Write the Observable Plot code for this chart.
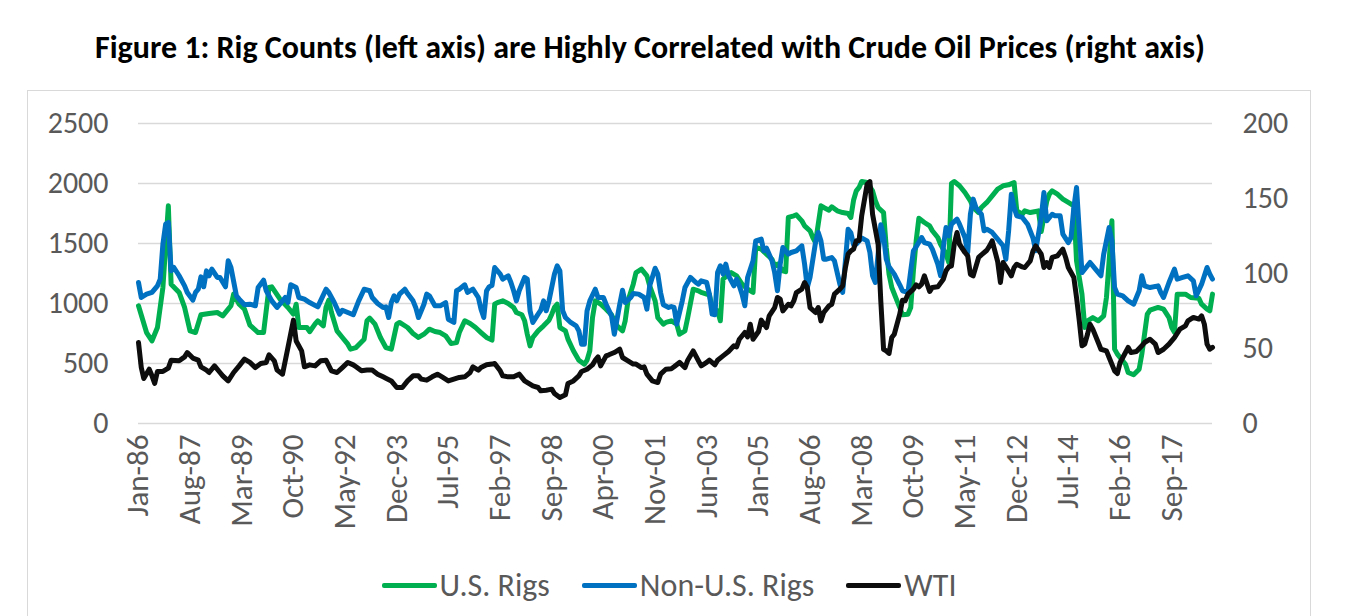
<!DOCTYPE html>
<html>
<head>
<meta charset="utf-8">
<script src="https://cdn.jsdelivr.net/npm/d3@7"></script>
<script src="https://cdn.jsdelivr.net/npm/@observablehq/plot@0.6"></script>
<style>
  html, body { margin: 0; padding: 0; background: #fff; }
  body { width: 1365px; height: 616px; overflow: hidden; position: relative; font-family: Carlito, Calibri, Lato, sans-serif; }
  #title { position: absolute; left: 95px; top: 32px; width: 1110px; text-align: center; font-weight: bold; color: #000; line-height: 32px; white-space: nowrap; }
  #box { position: absolute; left: 27px; top: 90px; width: 1282px; height: 560px; border: 1px solid #d9d9d9; box-sizing: content-box; }
  #chart { position: absolute; left: 0; top: 0; }
  #legend { position: absolute; left: 0; width: 100%; top: 475px; height: 38px; display: flex; justify-content: center; align-items: center; color: #595959; font-size: 32px; }
  .item { display: flex; align-items: center; margin: 0 16px; }
  .swatch { width: 55px; height: 5px; border-radius: 2px; margin-right: 3px; }
</style>
</head>
<body>
<div id="title"></div>
<div id="box">
  <div id="chart"></div>
  <div id="legend"></div>
</div>
<script>
const titleText = "Figure 1: Rig Counts (left axis) are Highly Correlated with Crude Oil Prices (right axis)";
const seriesNames = ["U.S. Rigs", "Non-U.S. Rigs", "WTI"];
const seriesColors = ["#00B050", "#0070C0", "#0D0D0D"];
const leftTicks = [0, 500, 1000, 1500, 2000, 2500];
const rightTicks = [0, 50, 100, 150, 200];
const xTickLabels = ["Jan-86","Aug-87","Mar-89","Oct-90","May-92","Dec-93","Jul-95","Feb-97","Sep-98","Apr-00","Nov-01","Jun-03","Jan-05","Aug-06","Mar-08","Oct-09","May-11","Dec-12","Jul-14","Feb-16","Sep-17"];
const xDomain = ["1986-01", "2018-12"];

// U.S. rig count (left axis)
const usRigs = [
["1986-01",981],["1986-04",758],["1986-06",689],["1986-08",800],["1986-10",1133],["1986-12",1814],
["1987-01",1161],["1987-04",1092],["1987-06",967],["1987-08",772],["1987-10",758],["1987-12",906],
["1988-03",917],["1988-06",925],["1988-08",897],["1988-10",953],["1988-11",981],["1988-12",1078],
["1989-02",994],["1989-04",953],["1989-06",820],["1989-09",758],["1989-11",758],
["1990-01",1133],["1990-02",1139],["1990-05",1040],["1990-08",967],["1990-10",911],["1990-11",994],["1990-12",800],
["1991-03",800],["1991-04",765],["1991-06",830],["1991-07",856],["1991-09",814],["1991-10",967],["1991-11",1028],["1991-12",925],
["1992-02",772],["1992-04",717],["1992-06",661],["1992-07",620],["1992-09",633],["1992-12",703],
["1993-01",856],["1993-02",878],["1993-04",828],["1993-06",717],["1993-08",633],["1993-10",620],["1993-12",828],
["1994-01",842],["1994-04",800],["1994-06",750],["1994-08",717],["1994-10",744],["1994-12",786],
["1995-02",767],["1995-04",758],["1995-06",731],["1995-08",667],["1995-10",675],["1995-11",758],
["1996-01",856],["1996-03",833],["1996-05",800],["1996-07",758],["1996-09",717],["1996-11",695],["1996-12",994],
["1997-01",1008],["1997-03",1022],["1997-05",1000],["1997-07",967],["1997-08",925],["1997-10",906],["1997-11",856],["1997-12",744],
["1998-01",647],["1998-02",717],["1998-04",772],["1998-06",814],["1998-08",861],["1998-09",911],["1998-10",967],["1998-11",994],["1998-12",800],
["1999-02",772],["1999-03",703],["1999-05",606],["1999-07",528],["1999-09",494],["1999-10",528],["1999-11",606],["1999-12",883],
["2000-01",1022],["2000-03",994],["2000-05",953],["2000-07",906],["2000-08",856],["2000-09",814],["2000-11",772],["2000-12",856],
["2001-01",1022],["2001-03",1161],["2001-04",1258],["2001-06",1286],["2001-08",1230],["2001-09",1147],["2001-11",1022],["2001-12",883],
["2002-02",828],["2002-03",842],["2002-05",856],["2002-07",828],["2002-08",744],["2002-10",772],["2002-11",883],
["2003-01",1119],["2003-03",1106],["2003-04",1092],["2003-06",1078],["2003-07",1078],["2003-08",967],["2003-10",939],["2003-11",856],["2003-12",1203],
["2004-02",1245],["2004-03",1258],["2004-05",1231],["2004-07",1161],["2004-09",1119],["2004-11",1092],["2004-12",1467],
["2005-02",1453],["2005-04",1411],["2005-06",1369],["2005-07",1314],["2005-08",1328],["2005-09",1300],["2005-10",1272],["2005-11",1265],["2005-12",1717],
["2006-02",1731],["2006-03",1739],["2006-05",1689],["2006-06",1647],["2006-08",1606],["2006-09",1550],["2006-10",1508],["2006-12",1814],
["2007-01",1800],["2007-03",1778],["2007-04",1806],["2007-06",1772],["2007-08",1758],["2007-10",1750],["2007-11",1717],["2007-12",1860],
["2008-01",1939],["2008-02",1967],["2008-03",2017],["2008-05",2008],["2008-07",1939],["2008-08",1856],["2008-09",1800],["2008-11",1758],["2008-12",1467],
["2009-01",1245],["2009-02",1133],["2009-04",1022],["2009-05",967],["2009-06",906],["2009-08",911],["2009-09",967],["2009-10",1272],["2009-11",1522],["2009-12",1711],
["2010-02",1675],["2010-04",1647],["2010-05",1606],["2010-07",1550],["2010-08",1494],["2010-10",1411],["2010-11",1342],["2010-12",2000],
["2011-01",2017],["2011-03",1981],["2011-05",1925],["2011-07",1856],["2011-08",1800],["2011-10",1758],["2011-11",1800],
["2012-01",1842],["2012-03",1897],["2012-05",1953],["2012-07",1981],["2012-09",1989],["2012-11",2008],["2012-12",1772],
["2013-02",1744],["2013-03",1772],["2013-05",1758],["2013-07",1767],["2013-08",1772],["2013-09",1600],["2013-11",1850],["2013-12",1911],
["2014-01",1939],["2014-03",1911],["2014-05",1870],["2014-07",1842],["2014-09",1814],["2014-10",1356],["2014-12",1078],
["2015-01",800],["2015-02",856],["2015-04",883],["2015-06",856],["2015-08",897],["2015-09",1050],["2015-10",1356],["2015-11",1689],["2015-12",620],
["2016-01",578],["2016-04",494],["2016-05",425],["2016-07",406],["2016-09",453],["2016-10",578],["2016-12",911],
["2017-01",944],["2017-04",967],["2017-06",953],["2017-08",883],["2017-09",800],["2017-10",760],["2017-11",1078],
["2018-02",1078],["2018-04",1050],["2018-07",1044],["2018-08",994],["2018-10",953],["2018-11",939],["2018-12",1078]
];

// Non-U.S. rig count (left axis)
const nonUsRigs = [
["1986-01",1175],["1986-02",1050],["1986-04",1078],["1986-06",1092],["1986-08",1147],["1986-09",1203],["1986-10",1494],["1986-11",1661],["1986-12",1675],
["1987-01",1272],["1987-02",1300],["1987-04",1231],["1987-06",1147],["1987-07",1092],["1987-09",1028],["1987-10",1092],["1987-11",1119],["1987-12",1222],
["1988-01",1139],["1988-02",1272],["1988-03",1231],["1988-04",1286],["1988-06",1217],["1988-07",1217],["1988-09",1139],["1988-10",1356],["1988-11",1300],
["1989-01",1064],["1989-02",1036],["1989-04",989],["1989-06",994],["1989-08",981],["1989-09",1133],["1989-11",1194],["1989-12",1106],
["1990-02",1022],["1990-04",967],["1990-06",1022],["1990-07",1050],["1990-08",1008],["1990-09",1156],["1990-11",1133],["1990-12",1050],
["1991-02",1036],["1991-04",1008],["1991-07",972],["1991-08",1022],["1991-10",1119],["1991-11",1092],
["1992-01",1008],["1992-03",911],["1992-04",944],["1992-06",925],["1992-08",906],["1992-10",1022],["1992-12",1119],
["1993-02",1106],["1993-03",1050],["1993-05",1000],["1993-07",967],["1993-08",972],["1993-09",883],["1993-10",1008],["1993-11",1064],["1993-12",1022],
["1994-01",1078],["1994-03",1119],["1994-04",1083],["1994-06",1022],["1994-07",967],["1994-08",883],["1994-10",994],["1994-11",1078],["1994-12",1064],
["1995-02",981],["1995-04",981],["1995-06",1008],["1995-07",869],["1995-09",842],["1995-10",1106],["1995-11",1119],
["1996-01",1156],["1996-02",1092],["1996-04",1119],["1996-06",1050],["1996-07",953],["1996-08",883],["1996-09",1106],["1996-10",1140],["1996-11",1150],["1996-12",1300],
["1997-02",1245],["1997-03",1203],["1997-05",1231],["1997-06",1175],["1997-07",1106],["1997-08",1022],["1997-09",1106],["1997-11",1217],["1997-12",1203],
["1998-01",939],["1998-02",842],["1998-04",911],["1998-05",944],["1998-06",1022],["1998-07",939],["1998-08",1022],["1998-10",1245],["1998-11",1314],["1998-12",1272],
["1999-01",939],["1999-02",883],["1999-04",842],["1999-06",814],["1999-07",772],["1999-08",661],["1999-09",661],["1999-10",939],["1999-11",1022],
["2000-01",1119],["2000-02",1050],["2000-04",1050],["2000-05",994],["2000-07",897],["2000-08",744],["2000-10",994],["2000-11",1111],["2000-12",1008],
["2001-02",1050],["2001-03",1083],["2001-05",1078],["2001-07",1050],["2001-08",953],["2001-09",1147],["2001-11",1294],["2001-12",1245],
["2002-01",1092],["2002-02",989],["2002-04",967],["2002-05",975],["2002-06",967],["2002-07",828],["2002-09",1022],["2002-10",1133],["2002-12",1217],
["2003-02",1175],["2003-03",1161],["2003-04",1189],["2003-06",1175],["2003-07",1078],["2003-08",911],["2003-09",906],["2003-10",1258],["2003-11",1314],["2003-12",1245],
["2004-01",1328],["2004-02",1231],["2004-04",1147],["2004-05",1203],["2004-06",1147],["2004-07",1078],["2004-08",981],["2004-09",1217],["2004-11",1356],["2004-12",1522],
["2005-02",1536],["2005-03",1439],["2005-04",1461],["2005-06",1356],["2005-07",1258],["2005-08",1106],["2005-09",1328],["2005-10",1467],["2005-12",1411],
["2006-01",1425],["2006-03",1439],["2006-05",1481],["2006-06",1328],["2006-07",1133],["2006-08",1217],["2006-10",1508],["2006-11",1592],["2006-12",1522],
["2007-01",1369],["2007-02",1369],["2007-04",1383],["2007-05",1356],["2007-07",1161],["2007-08",1092],["2007-09",1356],["2007-10",1619],["2007-11",1590],["2007-12",1490],
["2008-01",1494],["2008-03",1545],["2008-05",1522],["2008-06",1425],["2008-07",1231],["2008-08",1175],["2008-09",1411],["2008-10",1656],["2008-11",1564],["2008-12",1369],
["2009-01",1306],["2009-03",1245],["2009-05",1156],["2009-06",1106],["2009-08",1092],["2009-09",1272],["2009-10",1439],["2009-11",1472],
["2010-01",1550],["2010-02",1508],["2010-04",1494],["2010-05",1453],["2010-07",1328],["2010-08",1231],["2010-09",1467],["2010-10",1633],["2010-11",1564],["2010-12",1661],
["2011-02",1703],["2011-03",1661],["2011-05",1550],["2011-06",1425],["2011-07",1744],["2011-08",1870],["2011-09",1800],["2011-11",1744],["2011-12",1606],
["2012-01",1619],["2012-03",1592],["2012-05",1536],["2012-07",1481],["2012-08",1369],["2012-09",1606],["2012-10",1911],["2012-11",1800],["2012-12",1731],
["2013-02",1717],["2013-04",1661],["2013-06",1545],["2013-07",1440],["2013-09",1717],["2013-10",1925],["2013-11",1689],
["2014-01",1744],["2014-02",1731],["2014-04",1731],["2014-05",1578],["2014-07",1508],["2014-08",1550],["2014-09",1800],["2014-10",1967],["2014-11",1600],["2014-12",1258],
["2015-01",1286],["2015-03",1342],["2015-05",1286],["2015-07",1231],["2015-08",1411],["2015-10",1633],["2015-11",1522],["2015-12",1133],
["2016-01",1078],["2016-03",1064],["2016-05",1022],["2016-07",994],["2016-09",1106],["2016-10",1231],["2016-11",1147],
["2017-01",1133],["2017-04",1147],["2017-05",1092],["2017-06",1050],["2017-08",1175],["2017-10",1286],["2017-11",1203],
["2018-01",1217],["2018-03",1231],["2018-05",1189],["2018-06",1064],["2018-08",1161],["2018-10",1300],["2018-11",1245],["2018-12",1203]
];

// WTI crude oil price (right axis)
const wti = [
["1986-01",54],["1986-02",37.3],["1986-03",30],["1986-05",36.2],["1986-06",31.8],["1986-07",26.7],["1986-08",34.7],["1986-10",34.7],["1986-12",36.9],
["1987-01",42.2],["1987-04",41.8],["1987-06",44.4],["1987-07",47.3],["1987-09",43.6],["1987-11",42.2],["1987-12",37.8],
["1988-02",35.6],["1988-03",34],["1988-05",38.4],["1988-07",34],["1988-08",31.8],["1988-10",28.4],["1988-12",34],
["1989-02",38.4],["1989-04",42.9],["1989-06",40.7],["1989-08",37.3],["1989-10",40],["1989-12",40.7],
["1990-01",45.8],["1990-03",41.8],["1990-04",35.6],["1990-06",32.9],["1990-08",50.7],["1990-10",68.9],["1990-11",55],
["1991-01",48.4],["1991-02",37.8],["1991-04",39.1],["1991-06",38.4],["1991-08",41.8],["1991-10",42.2],["1991-12",35.1],
["1992-02",34],["1992-04",37.3],["1992-06",40.7],["1992-08",39.1],["1992-09",37.8],["1992-11",35.1],
["1993-01",35.6],["1993-03",35.6],["1993-05",32.9],["1993-07",31.1],["1993-08",30.2],["1993-10",28.4],["1993-12",24],
["1994-02",24],["1994-04",28.4],["1994-06",31.8],["1994-08",31.8],["1994-09",29.6],["1994-11",28.9],
["1995-01",31.1],["1995-03",32.9],["1995-05",30.7],["1995-07",28.4],["1995-09",29.6],["1995-11",30.7],
["1996-01",31.1],["1996-03",34],["1996-04",37.8],["1996-06",35.6],["1996-07",37.3],["1996-09",39.1],["1996-11",39.6],["1996-12",40],
["1997-02",35.1],["1997-03",31.8],["1997-05",31.1],["1997-07",31.1],["1997-09",32.9],["1997-11",28.4],
["1998-02",25.1],["1998-04",24],["1998-05",21.8],["1998-07",22.2],["1998-09",22.9],["1998-10",20],["1998-12",17.3],
["1999-02",19.1],["1999-03",26.7],["1999-05",28.4],["1999-07",31.8],["1999-08",34.7],["1999-10",36.2],["1999-12",39.1],
["2000-01",42.2],["2000-02",44.4],["2000-03",38.4],["2000-05",45.1],["2000-06",45.8],["2000-08",47.3],["2000-09",48.4],["2000-10",49.5],["2000-11",44],
["2001-01",41.8],["2001-03",39.6],["2001-04",39.6],["2001-06",37.3],["2001-07",37.8],["2001-08",32.9],["2001-10",28.4],["2001-12",27.3],
["2002-01",32.9],["2002-03",36.2],["2002-05",36.5],["2002-06",37.8],["2002-08",40.7],["2002-10",37.3],["2002-11",42.2],
["2003-01",48.4],["2003-03",41.8],["2003-04",38.4],["2003-06",40.7],["2003-07",42.2],["2003-09",39.1],["2003-10",42.2],["2003-12",45.1],
["2004-02",48],["2004-04",51.8],["2004-05",51.1],["2004-06",56.2],["2004-08",60.7],["2004-09",57.8],["2004-10",66.2],["2004-11",56.2],
["2005-01",61.3],["2005-02",68.9],["2005-04",64],["2005-05",71.8],["2005-07",77.3],["2005-08",84],["2005-09",82.9],["2005-10",75.1],["2005-12",79.5],
["2006-01",78.4],["2006-02",81.8],["2006-03",87.3],["2006-05",89.6],["2006-06",94],["2006-07",90.7],["2006-08",77.3],["2006-10",74],["2006-11",77.3],["2006-12",68.4],
["2007-01",74],["2007-03",78.4],["2007-04",79.5],["2007-05",86.2],["2007-07",89.6],["2007-08",91.8],["2007-09",104],["2007-10",112.9],["2007-11",115.1],["2007-12",116.2],
["2008-01",121.8],["2008-02",122],["2008-03",138.4],["2008-05",159.5],["2008-06",161.3],["2008-07",139.5],["2008-09",119.5],["2008-10",81.8],["2008-11",49.5],["2008-12",48.4],
["2009-01",46.7],["2009-02",57.3],["2009-03",59.5],["2009-05",72.9],["2009-06",82.2],["2009-07",81.8],["2009-08",86.2],["2009-10",89.6],["2009-11",92.4],["2009-12",91.1],
["2010-01",92.9],["2010-02",98.4],["2010-04",88],["2010-05",90.7],["2010-07",91.1],["2010-09",96.2],["2010-10",101.8],["2010-11",104.4],["2010-12",105.1],
["2011-01",119.5],["2011-02",127.3],["2011-03",119.5],["2011-05",114],["2011-06",111.8],["2011-07",99.5],["2011-08",98.4],["2011-10",110.7],["2011-11",112.4],
["2012-01",115.5],["2012-02",118.4],["2012-03",121.8],["2012-05",108],["2012-06",94],["2012-07",107.3],["2012-08",104.4],["2012-10",98.4],["2012-11",104],["2012-12",106.2],
["2013-02",104.4],["2013-03",104],["2013-05",108.4],["2013-06",115.1],["2013-07",118.4],["2013-09",112.9],["2013-10",104],["2013-11",107.3],["2013-12",104],
["2014-01",110.7],["2014-03",111.8],["2014-05",116.2],["2014-06",110.7],["2014-07",104],["2014-09",97.3],["2014-10",84],["2014-11",68.4],["2014-12",51.8],
["2015-01",52.9],["2015-02",59.5],["2015-03",66.2],["2015-04",62.9],["2015-06",54],["2015-07",49.5],["2015-09",48.4],["2015-10",44],["2015-12",35.1],
["2016-01",33.3],["2016-02",40.7],["2016-04",47.3],["2016-05",50.7],["2016-06",47.3],["2016-08",48],["2016-10",51.8],["2016-11",54],
["2017-01",56.2],["2017-03",52.9],["2017-04",47.3],["2017-06",49.5],["2017-08",52.9],["2017-10",57.3],["2017-12",62.9],
["2018-02",65.1],["2018-03",68.4],["2018-05",70.7],["2018-07",69.6],["2018-08",71.8],["2018-09",66.2],["2018-10",52.9],["2018-11",49.5],["2018-12",50.7]
];

const parseYM = d3.utcParse("%Y-%m");
const parseTick = d3.utcParse("%b-%y");
const fmtTick = d3.utcFormat("%b-%y");
const k = d3.max(leftTicks) / d3.max(rightTicks); // right-axis value -> left-axis units

const toRows = (arr, scale = 1) => arr.map(([d, v]) => ({date: parseYM(d), value: v * scale}));
const usRows = toRows(usRigs);
const nonUsRows = toRows(nonUsRigs);
const wtiRows = toRows(wti, k);

const fontFamily = "Carlito, Calibri, Lato, sans-serif";
const yTickFont = 30;
const xTickFont = 31;

// Title sized to its span in the reference
const titleEl = document.getElementById("title");
titleEl.textContent = titleText;
{
  const c = document.createElement("canvas").getContext("2d");
  c.font = `bold 100px ${fontFamily}`;
  const w = c.measureText(titleText).width;
  titleEl.style.fontSize = (100 * 1110 / w).toFixed(2) + "px";
  titleEl.style.fontFamily = fontFamily;
}

const chart = Plot.plot({
  width: 1282,
  height: 440,
  marginLeft: 110,
  marginRight: 98,
  marginTop: 32,
  marginBottom: 108,
  style: {fontFamily, fontSize: yTickFont + "px", color: "#595959", background: "transparent", overflow: "visible"},
  x: {type: "utc", domain: xDomain.map(parseYM), label: null},
  y: {domain: [0, d3.max(leftTicks)], label: null},
  marks: [
    Plot.ruleY(leftTicks, {stroke: "#d9d9d9", strokeWidth: 1.5}),
    Plot.axisY({ticks: leftTicks, tickFormat: v => String(v), tickSize: 0, tickPadding: 30, fontSize: yTickFont, fill: "#595959", label: null}),
    Plot.axisY({anchor: "right", ticks: rightTicks.map(v => v * k), tickFormat: v => String(Math.round(v / k)), tickSize: 0, tickPadding: 30, fontSize: yTickFont, fill: "#595959", label: null}),
    Plot.axisX({ticks: xTickLabels.map(parseTick), tickFormat: fmtTick, tickRotate: -90, tickSize: 0, tickPadding: 11, fontSize: xTickFont, fill: "#595959", label: null}),
    Plot.lineY(usRows, {x: "date", y: "value", stroke: seriesColors[0], strokeWidth: 5, strokeLinejoin: "round", strokeLinecap: "round"}),
    Plot.lineY(nonUsRows, {x: "date", y: "value", stroke: seriesColors[1], strokeWidth: 5, strokeLinejoin: "round", strokeLinecap: "round"}),
    Plot.lineY(wtiRows, {x: "date", y: "value", stroke: seriesColors[2], strokeWidth: 5, strokeLinejoin: "round", strokeLinecap: "round"})
  ]
});
document.getElementById("chart").appendChild(chart);

// Legend
const legend = document.getElementById("legend");
legend.style.fontFamily = fontFamily;
seriesNames.forEach((name, i) => {
  const item = document.createElement("div");
  item.className = "item";
  const sw = document.createElement("div");
  sw.className = "swatch";
  sw.style.background = seriesColors[i];
  const label = document.createElement("span");
  label.textContent = name;
  item.appendChild(sw);
  item.appendChild(label);
  legend.appendChild(item);
});
</script>
</body>
</html>
